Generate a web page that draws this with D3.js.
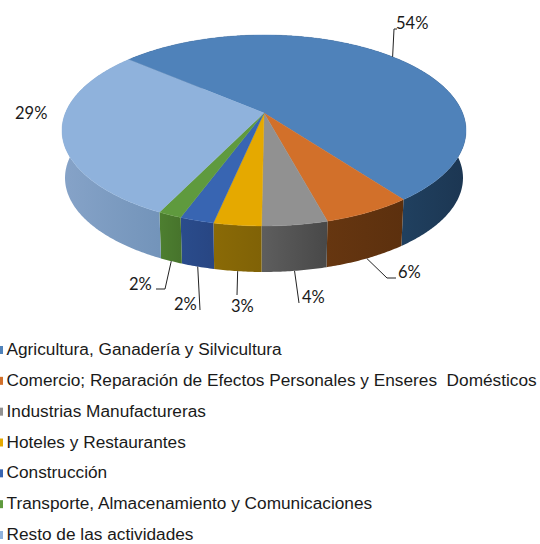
<!DOCTYPE html>
<html>
<head>
<meta charset="utf-8">
<script src="https://cdn.jsdelivr.net/npm/d3@7"></script>
<style>
  html, body { margin: 0; padding: 0; background: #fff; }
  svg { display: block; }
  text { white-space: pre; }
</style>
</head>
<body>
<div id="chart"></div>
<script>
// valores
const categories = [
  'Agricultura, Ganadería y Silvicultura',
  'Comercio; Reparación de Efectos Personales y Enseres  Domésticos',
  'Industrias Manufactureras',
  'Hoteles y Restaurantes',
  'Construcción',
  'Transporte, Almacenamiento y Comunicaciones',
  'Resto de las actividades'
];
const values = [53.6, 6.0, 4.4, 3.2, 2.3, 1.6, 29.0];

// colores
const topColors = ['#4f82ba', '#d2702a', '#919191', '#e5a900', '#3865b2', '#5f9a3e', '#8fb2dc'];
const sideFrom = ['#20405f', '#663610', '#5e5e5e', '#8a6a06', '#2a4c8c', '#4d7f30', '#86a3c8'];
const sideTo = ['#1c3652', '#5c300e', '#484848', '#806206', '#284683', '#47742c', '#7394ba'];

// posicion de cada etiqueta: codo de la guia y texto
const labelLayout = [
  { path: [[394, 29], [397, 29]], x: 396, y: 29, top: true },
  { path: [[387, 278], [396, 278]], x: 398, y: 278 },
  { path: [[299, 303]], x: 302, y: 303 },
  { path: [[237, 295]], x: 231, y: 312 },
  { path: [[200, 310]], x: 174, y: 310 },
  { path: [[165, 289], [156, 289]], x: 129, y: 290 },
  { path: null, x: 15, y: 119 }
];

const width = 540, height = 544;
const cx = 264, cy = 113;     // apice del pie
const S = 198.6, T = 92.3, k = 0.183;   // proyeccion en perspectiva
const depth = 47.7, baseScale = 0.985;

// proyeccion de un punto del borde, angulo en sentido horario desde arriba
function rim(a, r, bottom) {
  const u = r * Math.sin(a), v = -r * Math.cos(a);
  const w = 1 - k * v;
  const s = bottom ? baseScale : 1;
  return [cx + s * S * u / w, cy + (bottom ? depth : 0) + s * T * v / w];
}

const svg = d3.select('#chart').append('svg')
  .attr('width', width)
  .attr('height', height);

const start = -49.6 * Math.PI / 180;
const slices = d3.pie().sort(null).startAngle(start).endAngle(start + 2 * Math.PI)(values);
const line = d3.line();
const pct = d3.format('.0f');

function arcAngles(d) {
  const n = Math.max(2, Math.ceil((d.endAngle - d.startAngle) / 0.01));
  return d3.range(n + 1).map(i => d.startAngle + (d.endAngle - d.startAngle) * i / n);
}

// degradado de los laterales
const defs = svg.append('defs');
slices.forEach((d, i) => {
  const xs = arcAngles(d).filter(a => Math.cos(a) < 0.1).map(a => rim(a, 1, false)[0]);
  const g = defs.append('linearGradient')
    .attr('id', 'side' + i)
    .attr('gradientUnits', 'userSpaceOnUse')
    .attr('x1', d3.min(xs)).attr('x2', d3.max(xs))
    .attr('y1', 0).attr('y2', 0);
  g.append('stop').attr('offset', 0).attr('stop-color', sideFrom[i]);
  g.append('stop').attr('offset', 1).attr('stop-color', sideTo[i]);
});

// laterales
svg.append('g').selectAll('path')
  .data(slices)
  .enter()
  .append('path')
  .attr('d', d => {
    const angles = arcAngles(d);
    const upper = angles.map(a => rim(a, 1, false));
    const lower = angles.slice().reverse().map(a => rim(a, 1, true));
    return line(upper.concat(lower)) + 'Z';
  })
  .attr('fill', (d, i) => `url(#side${i})`);

// cara superior
svg.append('g').selectAll('path')
  .data(slices)
  .enter()
  .append('path')
  .attr('d', d => line([[cx, cy]].concat(arcAngles(d).map(a => rim(a, 1, false)))) + 'Z')
  .attr('fill', (d, i) => topColors[i])
  .attr('stroke', (d, i) => topColors[i])
  .attr('stroke-width', 0.4);

// guias
svg.append('g').selectAll('path')
  .data(slices)
  .enter()
  .filter((d, i) => labelLayout[i].path)
  .append('path')
  .attr('d', d => {
    const i = d.index;
    const mid = (d.startAngle + d.endAngle) / 2;
    const from = rim(mid, 1, !labelLayout[i].top);
    return line([from].concat(labelLayout[i].path));
  })
  .attr('fill', 'none')
  .attr('stroke', '#222')
  .attr('stroke-width', 1);

// porcentajes
svg.append('g').selectAll('text')
  .data(slices)
  .enter()
  .append('text')
  .attr('x', (d, i) => labelLayout[i].x)
  .attr('y', (d, i) => labelLayout[i].y)
  .attr('font-family', 'Lato, "Open Sans", sans-serif')
  .attr('font-size', 16.5)
  .attr('fill', '#1a1a1a')
  .text(d => pct(d.value) + '%');

// leyenda
const legendY = d3.scalePoint().domain(categories).range([350, 535]);
const legend = svg.append('g').selectAll('g')
  .data(categories)
  .enter()
  .append('g')
  .attr('transform', d => `translate(0,${legendY(d)})`);

legend.append('rect')
  .attr('x', 0).attr('y', -4)
  .attr('width', 3).attr('height', 8)
  .attr('fill', (d, i) => topColors[i]);

legend.append('text')
  .attr('x', 6.5).attr('y', 5)
  .attr('font-family', '"Liberation Sans", Arial, sans-serif')
  .attr('font-size', 17.25)
  .attr('fill', '#1a1a1a')
  .text(d => d);
</script>
</body>
</html>
